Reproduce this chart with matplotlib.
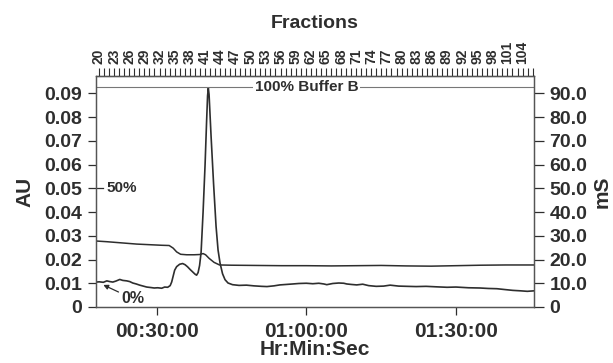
import matplotlib
matplotlib.use("Agg")
import matplotlib.pyplot as plt
from matplotlib.ticker import FixedLocator, MultipleLocator, FuncFormatter

plt.rcParams["font.family"] = ["Liberation Sans", "DejaVu Sans"]

# run time (min) and UV absorbance (AU)
uv_time = [17.8, 18.5, 19.3, 20.0, 20.6, 21.2, 21.8, 22.6, 23.2, 24.0, 24.6, 25.2,
           25.9, 26.6, 27.3, 28.0, 28.8, 29.5, 30.2, 31.0, 31.6, 32.2, 32.7, 33.0,
           33.3, 33.6, 34.0, 34.6, 35.2, 35.7, 36.2, 36.7, 37.2, 37.7, 38.0, 38.3,
           38.6, 38.9, 39.3, 39.7, 40.0, 40.2, 40.35, 40.5, 40.9, 41.4, 41.9, 42.3,
           42.7, 43.2, 43.7, 44.3, 45.2, 46.5, 48.0, 49.5, 51.0, 52.1, 53.5, 54.7,
           56.0, 57.3, 58.5, 60.0, 61.3, 62.5, 63.5, 64.1, 65.3, 66.5, 67.5, 68.1,
           69.0, 70.1, 71.3, 72.5, 74.0, 75.5, 76.8, 78.5, 80.2, 82.0, 84.0, 86.0,
           88.2, 90.0, 92.5, 94.8, 96.5, 98.2, 100.0, 101.4, 103.0, 104.3, 105.6]
uv_au = [0.0105, 0.0106, 0.0104, 0.0110, 0.0107, 0.0105, 0.0109, 0.0116, 0.0112, 0.0110, 0.0107, 0.0101,
         0.0097, 0.0092, 0.0088, 0.0084, 0.0082, 0.0080, 0.0081, 0.0079, 0.0084, 0.0083, 0.0090, 0.0105,
         0.0130, 0.0155, 0.0170, 0.0180, 0.0183, 0.0178, 0.0169, 0.0158, 0.0148, 0.0138, 0.0134, 0.0145,
         0.0175, 0.0230, 0.0400, 0.0600, 0.0780, 0.0890, 0.0922, 0.0895, 0.0720, 0.0520, 0.0340, 0.0240,
         0.0185, 0.0140, 0.0115, 0.0101, 0.0094, 0.0091, 0.0092, 0.0089, 0.0087, 0.0086, 0.0089, 0.0093,
         0.0095, 0.0097, 0.0099, 0.0100, 0.0098, 0.0100, 0.0097, 0.0094, 0.0099, 0.0101, 0.0100, 0.0097,
         0.0095, 0.0093, 0.0096, 0.0090, 0.0087, 0.0088, 0.0092, 0.0088, 0.0087, 0.0086, 0.0087, 0.0085,
         0.0083, 0.0084, 0.0081, 0.0080, 0.0078, 0.0077, 0.0073, 0.0070, 0.0068, 0.0066, 0.0068]

# run time (min) and conductivity (mS)
cond_time = [17.8, 20.0, 23.0, 26.0, 29.0, 31.0, 32.5, 33.3, 34.0, 34.8, 36.0, 37.5,
             38.6, 39.3, 39.8, 40.5, 41.5, 42.6, 45.0, 50.0, 55.0, 60.0, 65.0, 70.0,
             75.0, 80.0, 85.0, 90.0, 95.0, 100.0, 105.6]
cond_ms = [27.8, 27.5, 27.0, 26.5, 26.2, 26.0, 25.9, 24.8, 23.2, 22.2, 22.0, 22.0,
           22.1, 22.5, 22.0, 20.5, 18.8, 17.7, 17.6, 17.5, 17.4, 17.4, 17.3, 17.4,
           17.5, 17.3, 17.2, 17.4, 17.6, 17.7, 17.7]

au_ticks = [0, 0.01, 0.02, 0.03, 0.04, 0.05, 0.06, 0.07, 0.08, 0.09]
ms_ticks = [0, 10, 20, 30, 40, 50, 60, 70, 80, 90]
time_ticks = [30, 60, 90]
fraction_ticks = list(range(20, 102, 3)) + [104]

fraction_start = 18.43   # run time of fraction 20 (min)
fraction_width = 1.011   # minutes per fraction
buffer_b_level = 0.0927

ink = "#2e2e2e"


def to_fraction(t):
    return (t - fraction_start) / fraction_width + 20


def to_time(f):
    return (f - 20) * fraction_width + fraction_start


def hms(value, _pos):
    total = int(round(value * 60))
    return f"{total // 3600:02d}:{total % 3600 // 60:02d}:{total % 60:02d}"


fig = plt.figure(figsize=(6.13, 3.63), dpi=100)
ax = fig.add_axes([0.1566, 0.1543, 0.8711 - 0.1566, 0.7906 - 0.1543])

ax.plot(uv_time, uv_au, color=ink, lw=1.2)
ax.set_xlim(17.83, 105.64)
ax.set_ylim(0, 0.0973)
ax.set_yticks(au_ticks)
ax.set_yticklabels(["0"] + [f"{v:.2f}" for v in au_ticks[1:]])
ax.set_xticks(time_ticks)
ax.xaxis.set_major_formatter(FuncFormatter(hms))
ax.tick_params(axis="both", direction="out", length=6, width=0.9, colors=ink, pad=4)
for lab in ax.get_xticklabels() + ax.get_yticklabels():
    lab.set_fontweight("bold")
ax.tick_params(axis="x", labelsize=15, pad=5)
ax.tick_params(axis="y", labelsize=14)
ax.set_xlabel("Hr:Min:Sec", fontsize=15, fontweight="bold", color=ink, labelpad=-1)
ax.set_ylabel("AU", fontsize=15, fontweight="bold", color=ink, labelpad=7)

# gradient annotations
ax.axhline(buffer_b_level, color="#777777", lw=0.8)
ax.text(60, buffer_b_level, "100% Buffer B", fontsize=11, fontweight="bold", color=ink,
        ha="center", va="center", bbox=dict(facecolor="white", edgecolor="none", pad=1))
ax.axhline(0.05, xmin=0, xmax=0.016, color=ink, lw=0.9)
ax.text(19.9, 0.05, "50%", fontsize=11, fontweight="bold", color=ink, va="center")
ax.annotate("0%", xy=(19.3, 0.0093), xytext=(22.9, 0.0035), fontsize=11.5, fontweight="bold",
            color=ink, va="center",
            arrowprops=dict(arrowstyle="-|>", color=ink, lw=0.9, mutation_scale=7, shrinkA=0, shrinkB=0))

# conductivity on the right axis
ax2 = ax.twinx()
ax2.plot(cond_time, cond_ms, color=ink, lw=1.1)
ax2.set_ylim(0, 97.3)
ax2.set_yticks(ms_ticks)
ax2.set_yticklabels(["0"] + [f"{v:.1f}" for v in ms_ticks[1:]])
ax2.tick_params(axis="y", direction="out", length=7, width=0.9, colors=ink, pad=4, labelsize=14)
for lab in ax2.get_yticklabels():
    lab.set_fontweight("bold")
ax2.set_ylabel("mS", fontsize=15, fontweight="bold", color=ink, rotation=90, labelpad=4)

# fraction scale on top
top = ax.secondary_xaxis("top", functions=(to_fraction, to_time))
top.xaxis.set_major_locator(FixedLocator(fraction_ticks))
top.xaxis.set_minor_locator(MultipleLocator(1))
top.tick_params(which="both", direction="out", length=6, width=0.8, colors=ink)
top.tick_params(axis="x", labelsize=10, labelrotation=90, pad=3)
for lab in top.xaxis.get_ticklabels():
    lab.set_fontweight("bold")
top.set_xlabel("Fractions", fontsize=14, fontweight="bold", color=ink, labelpad=9)

for a in (ax, ax2):
    for s in a.spines.values():
        s.set_color("#555555")
        s.set_linewidth(0.9)

fig.savefig("out.png", dpi=100)
